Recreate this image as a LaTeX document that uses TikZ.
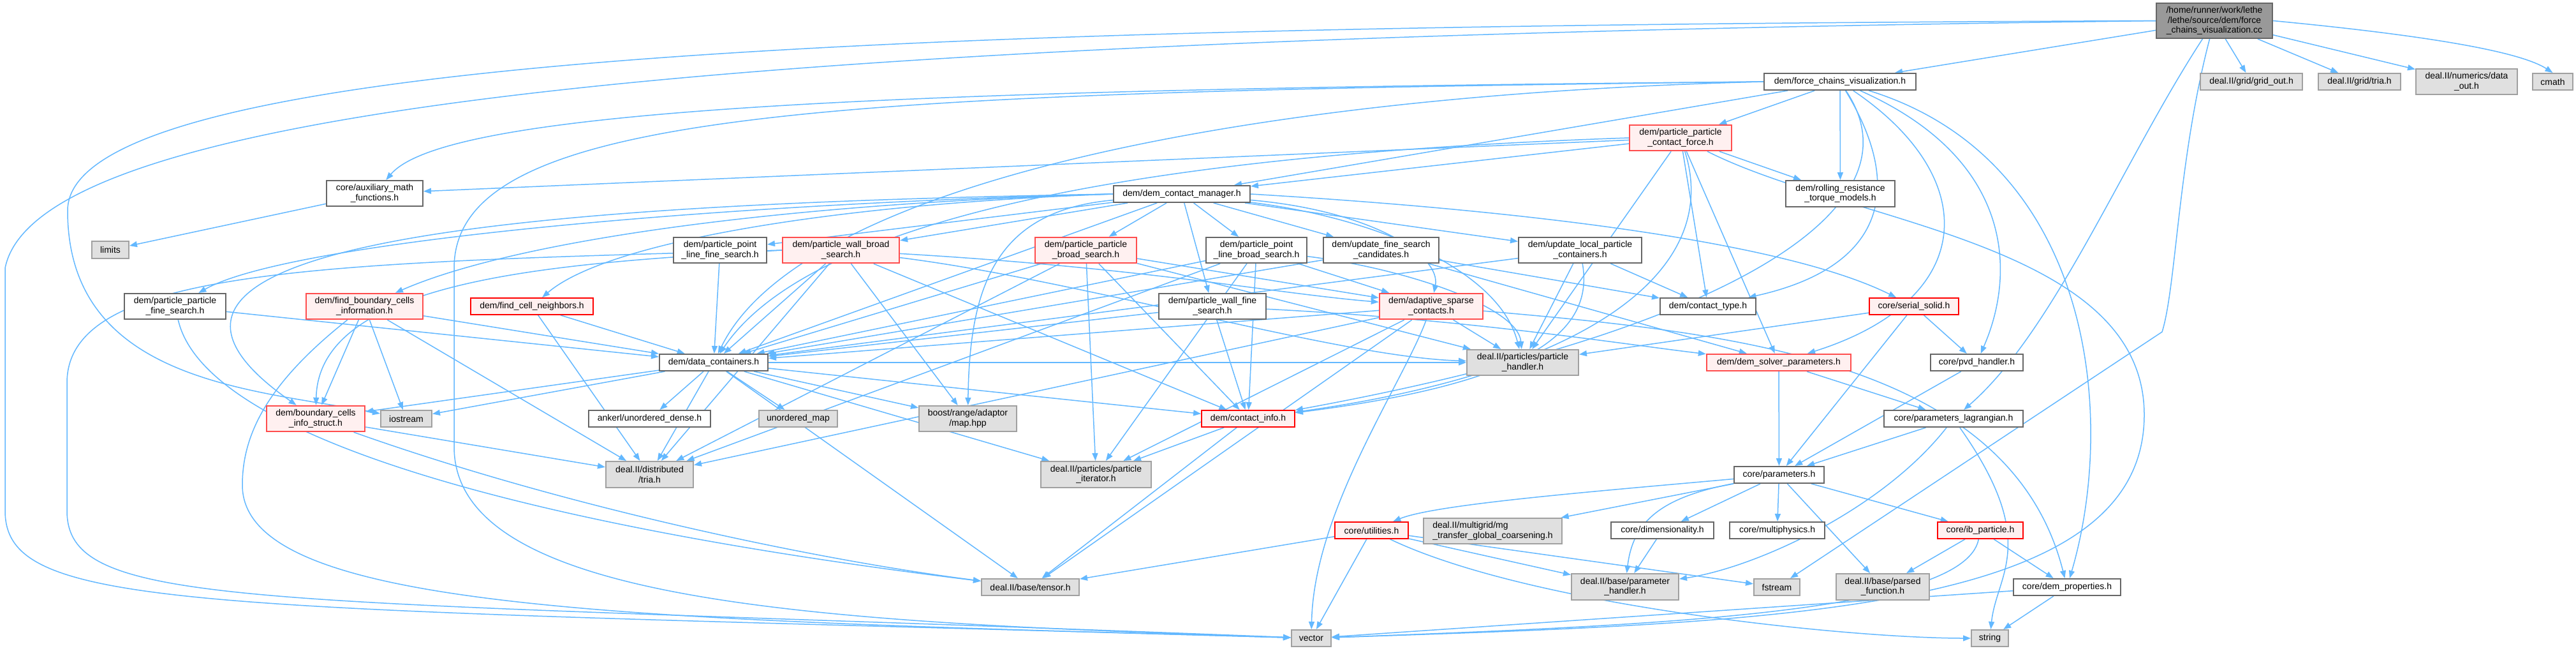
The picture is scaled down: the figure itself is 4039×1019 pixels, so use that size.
\documentclass[tikz,border=0pt]{standalone}
\usepackage{fontspec}
\setmainfont{Liberation Sans}
\usepackage{tikz}
\usetikzlibrary{arrows.meta,backgrounds}
\usepackage{xcolor}
\definecolor{edgeblue}{HTML}{63B8FF}
\definecolor{boxline}{HTML}{666666}
\definecolor{grayline}{HTML}{A0A0A0}
\definecolor{grayfill}{HTML}{E0E0E0}
\definecolor{redline}{HTML}{FF4D4D}
\definecolor{redfill}{HTML}{FFF0F0}
\definecolor{rootfill}{HTML}{999999}
\tikzset{
  box/.style={draw=boxline, line width=1pt, fill=white, align=center, inner sep=0pt, font=\fontsize{7}{7.8}\selectfont},
  graybox/.style={box, draw=grayline, fill=grayfill},
  redbox/.style={box, draw=redline, fill=redfill, line width=1.2pt},
  redthinbox/.style={box, draw=red, fill=redfill, line width=0.9pt},
  rootbox/.style={box, fill=rootfill},
  wh/.style 2 args={minimum width={#1*0.5pt}, minimum height={#2*0.5pt}},
  arrow/.style={-{Triangle[length=6pt,width=4.5pt]}, draw=edgeblue, line width=0.75pt}
}
\begin{document}
\begin{tikzpicture}[x=0.5pt, y=-0.5pt]
  \useasboundingbox (0,0) rectangle (4039,1019);
  \node[rootbox, wh={182}{55}] (main) at (3472,32.5) {/home/runner/work/lethe\\/lethe/source/dem/force\\\_chains\_visualization.cc};
  \node[box, wh={238}{26}] (fcv) at (2885,128) {dem/force\_chains\_visualization.h};
  \node[graybox, wh={160}{26}] (gridout) at (3530,128) {deal.II/grid/grid\_out.h};
  \node[graybox, wh={129}{26}] (gridtria) at (3699.5,128) {deal.II/grid/tria.h};
  \node[graybox, wh={159}{40}] (dataout) at (3867.5,128) {deal.II/numerics/data\\\_out.h};
  \node[graybox, wh={63}{26}] (cmath) at (4002.5,128) {cmath};
  \node[redbox, wh={160}{40}] (ppcf) at (2635,216) {dem/particle\_particle\\\_contact\_force.h};
  \node[box, wh={151}{40}] (auxmath) at (587.5,303) {core/auxiliary\_math\\\_functions.h};
  \node[box, wh={214}{26}] (dcm) at (1853,304) {dem/dem\_contact\_manager.h};
  \node[box, wh={171}{41}] (rolling) at (2885.5,303.5) {dem/rolling\_resistance\\\_torque\_models.h};
  \node[graybox, wh={58}{27}] (limits) at (173,391.5) {limits};
  \node[box, wh={146}{40}] (pplfs) at (1129,392) {dem/particle\_point\\\_line\_fine\_search.h};
  \node[redbox, wh={183}{40}] (pwbs) at (1318.5,392) {dem/particle\_wall\_broad\\\_search.h};
  \node[redbox, wh={159}{40}] (ppbs) at (1702.5,392) {dem/particle\_particle\\\_broad\_search.h};
  \node[box, wh={158}{40}] (pplbs) at (1970,392) {dem/particle\_point\\\_line\_broad\_search.h};
  \node[box, wh={181}{40}] (ufsc) at (2165.5,392) {dem/update\_fine\_search\\\_candidates.h};
  \node[box, wh={193}{40}] (ulpc) at (2477.5,392) {dem/update\_local\_particle\\\_containers.h};
  \node[box, wh={159}{40}] (ppfs) at (274.5,480) {dem/particle\_particle\\\_fine\_search.h};
  \node[redbox, wh={183}{40}] (fbci) at (571.5,480) {dem/find\_boundary\_cells\\\_information.h};
  \node[redthinbox, wh={192}{26}] (fcn) at (834,480) {dem/find\_cell\_neighbors.h};
  \node[box, wh={168}{40}] (pwfs) at (1901,480) {dem/particle\_wall\_fine\\\_search.h};
  \node[redbox, wh={162}{40}] (asc) at (2244,480) {dem/adaptive\_sparse\\\_contacts.h};
  \node[box, wh={150}{26}] (ctype) at (2678,480) {dem/contact\_type.h};
  \node[redthinbox, wh={140}{26}] (serial) at (3001,480) {core/serial\_solid.h};
  \node[box, wh={170}{26}] (dcont) at (1119,568) {dem/data\_containers.h};
  \node[graybox, wh={175}{40}] (phandler) at (2387.5,568) {deal.II/particles/particle\\\_handler.h};
  \node[redbox, wh={226}{26}] (dsp) at (2789,568) {dem/dem\_solver\_parameters.h};
  \node[box, wh={145}{26}] (pvd) at (3099.5,568) {core/pvd\_handler.h};
  \node[redbox, wh={154}{40}] (bcis) at (495,656) {dem/boundary\_cells\\\_info\_struct.h};
  \node[graybox, wh={80}{26}] (iostream) at (637,656) {iostream};
  \node[box, wh={191}{26}] (ankerl) at (1018.5,656) {ankerl/unordered\_dense.h};
  \node[graybox, wh={123}{26}] (umap) at (1251.5,656) {unordered\_map};
  \node[graybox, wh={153}{40}] (boostmap) at (1517.5,656) {boost/range/adaptor\\/map.hpp};
  \node[redthinbox, wh={146}{26}] (cinfo) at (1957,656) {dem/contact\_info.h};
  \node[box, wh={218}{26}] (plag) at (3063,656) {core/parameters\_lagrangian.h};
  \node[graybox, wh={137}{41}] (dtria) at (1018.5,743.5) {deal.II/distributed\\/tria.h};
  \node[graybox, wh={173}{41}] (piter) at (1718.5,743.5) {deal.II/particles/particle\\\_iterator.h};
  \node[box, wh={141}{26}] (params) at (2789.5,744) {core/parameters.h};
  \node[redthinbox, wh={115}{26}] (util) at (2150.5,831) {core/utilities.h};
  \node[graybox, wh={217}{40}, align=left] (mgt) at (2340.5,832) {deal.II/multigrid/mg\\\_transfer\_global\_coarsening.h};
  \node[box, wh={161}{26}] (dimen) at (2606.5,831) {core/dimensionality.h};
  \node[box, wh={149}{26}] (multiph) at (2786.5,831) {core/multiphysics.h};
  \node[redthinbox, wh={134}{26}] (ibp) at (3105,831) {core/ib\_particle.h};
  \node[graybox, wh={153}{26}] (tensor) at (1615.5,920) {deal.II/base/tensor.h};
  \node[graybox, wh={168}{41}] (paramh) at (2548,919.5) {deal.II/base/parameter\\\_handler.h};
  \node[graybox, wh={72}{26}] (fstream) at (2786,920) {fstream};
  \node[graybox, wh={146}{41}] (pfunc) at (2952,919.5) {deal.II/base/parsed\\\_function.h};
  \node[box, wh={168}{26}] (demprop) at (3241,920) {core/dem\_properties.h};
  \node[graybox, wh={62}{26}] (vector) at (2056,1000) {vector};
  \node[graybox, wh={58}{26}] (string) at (3120,1000) {string};
  \begin{scope}[on background layer]
  \fill[white] (0,0) rectangle (4039,1019);
  \draw[arrow] (main) -- (fcv);
  \draw[arrow] (main) -- (gridout);
  \draw[arrow] (main) -- (gridtria);
  \draw[arrow] (main) -- (dataout);
  \draw[arrow] (main.east) .. controls (3800,55) and (3950,80) .. (cmath.north);
  \draw[arrow] (main) .. controls (3330,250) and (3220,520) .. (plag);
  \draw[arrow] (main) .. controls (3415,250) and (3412,450) .. (3390,520) -- (fstream);
  \draw[arrow] (main.west) .. controls (1500,40) and (106,80) .. (106,330) .. controls (106,600) and (400,610) .. (iostream);
  \draw[arrow] (main.west) .. controls (1200,60) and (60,160) .. (8,420) -- (8,800) .. controls (8,960) and (300,950) .. (vector);
  \draw[arrow] (fcv.west) .. controls (1400,140) and (700,170) .. (auxmath);
  \draw[arrow] (fcv) -- (ppcf);
  \draw[arrow] (fcv) -- (dcm);
  \draw[arrow] (fcv) -- (rolling);
  \draw[arrow] (fcv) .. controls (2990,300) and (2950,420) .. (ctype);
  \draw[arrow] (fcv) .. controls (3020,330) and (2700,520) .. (cinfo);
  \draw[arrow] (fcv) .. controls (3110,280) and (3100,470) .. (dsp);
  \draw[arrow] (fcv) .. controls (3160,250) and (3160,430) .. (pvd);
  \draw[arrow] (fcv) .. controls (3280,250) and (3320,650) .. (demprop);
  \draw[arrow] (fcv.west) .. controls (1900,150) and (1250,300) .. (dcont);
  \draw[arrow] (fcv.west) .. controls (1300,145) and (712,170) .. (712,420) -- (712,700) .. controls (712,950) and (1300,975) .. (vector);
  \draw[arrow] (ppcf) -- (auxmath);
  \draw[arrow] (ppcf) -- (dcm);
  \draw[arrow] (ppcf) -- (rolling);
  \draw[arrow] (ppcf) -- (ctype);
  \draw[arrow] (ppcf) .. controls (2700,420) and (2500,580) .. (cinfo);
  \draw[arrow] (ppcf.west) .. controls (2000,235) and (1300,300) .. (dcont);
  \draw[arrow] (ppcf) -- (dsp);
  \draw[arrow] (ppcf) -- (phandler);
  \draw[arrow] (ppcf) .. controls (2900,350) and (3362,380) .. (3362,650) .. controls (3362,960) and (2800,975) .. (vector);
  \draw[arrow] (dcm) -- (pwbs);
  \draw[arrow] (dcm) -- (ppbs);
  \draw[arrow] (dcm) -- (pplbs);
  \draw[arrow] (dcm) -- (ufsc);
  \draw[arrow] (dcm) -- (ulpc);
  \draw[arrow] (dcm) -- (pwfs);
  \draw[arrow] (dcm) -- (pplfs);
  \draw[arrow] (dcm) .. controls (2150,330) and (2260,400) .. (asc);
  \draw[arrow] (dcm.west) .. controls (1100,320) and (450,380) .. (ppfs);
  \draw[arrow] (dcm.west) .. controls (1200,320) and (800,380) .. (fbci);
  \draw[arrow] (dcm.west) .. controls (1300,320) and (950,380) .. (fcn);
  \draw[arrow] (dcm.east) .. controls (2400,330) and (2800,380) .. (serial);
  \draw[arrow] (dcm) -- (dcont);
  \draw[arrow] (dcm) .. controls (2150,340) and (2350,420) .. (phandler);
  \draw[arrow] (dcm) .. controls (1560,330) and (1520,450) .. (boostmap);
  \draw[arrow] (dcm.west) .. controls (800,320) and (100,380) .. (bcis);
  \draw[arrow] (pplfs) -- (dcont);
  \draw[arrow] (pwbs) -- (dcont);
  \draw[arrow] (pwbs) .. controls (1800,420) and (2000,460) .. (asc);
  \draw[arrow] (pwbs.west) .. controls (900,412) and (500,430) .. (bcis);
  \draw[arrow] (pwbs.west) .. controls (500,412) and (105,420) .. (105,600) -- (105,800) .. controls (105,960) and (400,935) .. (vector);
  \draw[arrow] (pwbs) -- (dtria);
  \draw[arrow] (pwbs) -- (cinfo);
  \draw[arrow] (pwbs) .. controls (1700,440) and (2100,560) .. (phandler);
  \draw[arrow] (pwbs) -- (boostmap);
  \draw[arrow] (ppbs) -- (dcont);
  \draw[arrow] (ppbs) -- (asc);
  \draw[arrow] (ppbs) -- (piter);
  \draw[arrow] (ppbs) -- (cinfo);
  \draw[arrow] (ppbs) -- (dtria);
  \draw[arrow] (ppbs) -- (phandler);
  \draw[arrow] (pplbs) -- (asc);
  \draw[arrow] (pplbs) .. controls (2200,420) and (2380,480) .. (phandler);
  \draw[arrow] (pplbs) -- (cinfo);
  \draw[arrow] (pplbs) -- (dcont);
  \draw[arrow] (pplbs) -- (dtria);
  \draw[arrow] (pplbs) -- (piter);
  \draw[arrow] (ufsc) -- (ctype);
  \draw[arrow] (ufsc) -- (dsp);
  \draw[arrow] (ufsc) -- (dcont);
  \draw[arrow] (ulpc) -- (ctype);
  \draw[arrow] (ulpc) -- (phandler);
  \draw[arrow] (ulpc) -- (dcont);
  \draw[arrow] (ulpc) .. controls (2500,520) and (2400,600) .. (cinfo);
  \draw[arrow] (ppfs) -- (dcont);
  \draw[arrow] (ppfs) .. controls (320,680) and (800,820) .. (tensor);
  \draw[arrow] (fbci) -- (bcis);
  \draw[arrow] (fbci) -- (iostream);
  \draw[arrow] (fbci) -- (dtria);
  \draw[arrow] (fbci) .. controls (420,600) and (380,680) .. (380,760) .. controls (380,960) and (1000,970) .. (vector);
  \draw[arrow] (fbci) -- (dcont);
  \draw[arrow] (fcn) -- (dcont);
  \draw[arrow] (fcn) -- (dtria);
  \draw[arrow] (pwfs) -- (dcont);
  \draw[arrow] (pwfs) .. controls (2300,500) and (2550,540) .. (dsp);
  \draw[arrow] (pwfs) -- (cinfo);
  \draw[arrow] (asc) -- (dcont);
  \draw[arrow] (asc) -- (phandler);
  \draw[arrow] (asc) -- (dtria);
  \draw[arrow] (asc) .. controls (2200,600) and (2060,800) .. (vector);
  \draw[arrow] (asc) -- (tensor);
  \draw[arrow] (asc) -- (piter);
  \draw[arrow] (asc) .. controls (2700,520) and (3150,560) .. (demprop);
  \draw[arrow] (serial) -- (pvd);
  \draw[arrow] (serial) -- (params);
  \draw[arrow] (serial) -- (phandler);
  \draw[arrow] (dcont) -- (ankerl);
  \draw[arrow] (dcont) -- (umap);
  \draw[arrow] (dcont) -- (dtria);
  \draw[arrow] (dcont) -- (iostream);
  \draw[arrow] (dcont) -- (bcis);
  \draw[arrow] (dcont) -- (boostmap);
  \draw[arrow] (dcont) -- (cinfo);
  \draw[arrow] (dcont) -- (piter);
  \draw[arrow] (dcont) -- (phandler);
  \draw[arrow] (dcont) -- (tensor);
  \draw[arrow] (dsp) -- (params);
  \draw[arrow] (dsp) -- (plag);
  \draw[arrow] (pvd) -- (params);
  \draw[arrow] (plag) -- (params);
  \draw[arrow] (plag) .. controls (3200,850) and (3130,900) .. (string);
  \draw[arrow] (plag) .. controls (2950,800) and (2750,890) .. (paramh);
  \draw[arrow] (params) .. controls (2500,770) and (2250,790) .. (util);
  \draw[arrow] (params) -- (mgt);
  \draw[arrow] (params) -- (dimen);
  \draw[arrow] (params) -- (multiph);
  \draw[arrow] (params) -- (ibp);
  \draw[arrow] (params) -- (pfunc);
  \draw[arrow] (params) .. controls (2600,780) and (2560,820) .. (paramh);
  \draw[arrow] (util) -- (tensor);
  \draw[arrow] (util) -- (vector);
  \draw[arrow] (util) -- (paramh);
  \draw[arrow] (util) -- (fstream);
  \draw[arrow] (util) .. controls (2400,950) and (2900,1000) .. (string);
  \draw[arrow] (dimen) -- (paramh);
  \draw[arrow] (ibp) -- (pfunc);
  \draw[arrow] (ibp) -- (demprop);
  \draw[arrow] (ibp) .. controls (3080,960) and (2600,980) .. (vector);
  \draw[arrow] (demprop) -- (string);
  \draw[arrow] (demprop) -- (vector);
  \draw[arrow] (cinfo) -- (tensor);
  \draw[arrow] (cinfo) -- (piter);
  \draw[arrow] (bcis) -- (dtria);
  \draw[arrow] (bcis) .. controls (900,800) and (1300,880) .. (tensor);
  \draw[arrow] (auxmath) -- (limits);
  \end{scope}
\end{tikzpicture}
\end{document}
